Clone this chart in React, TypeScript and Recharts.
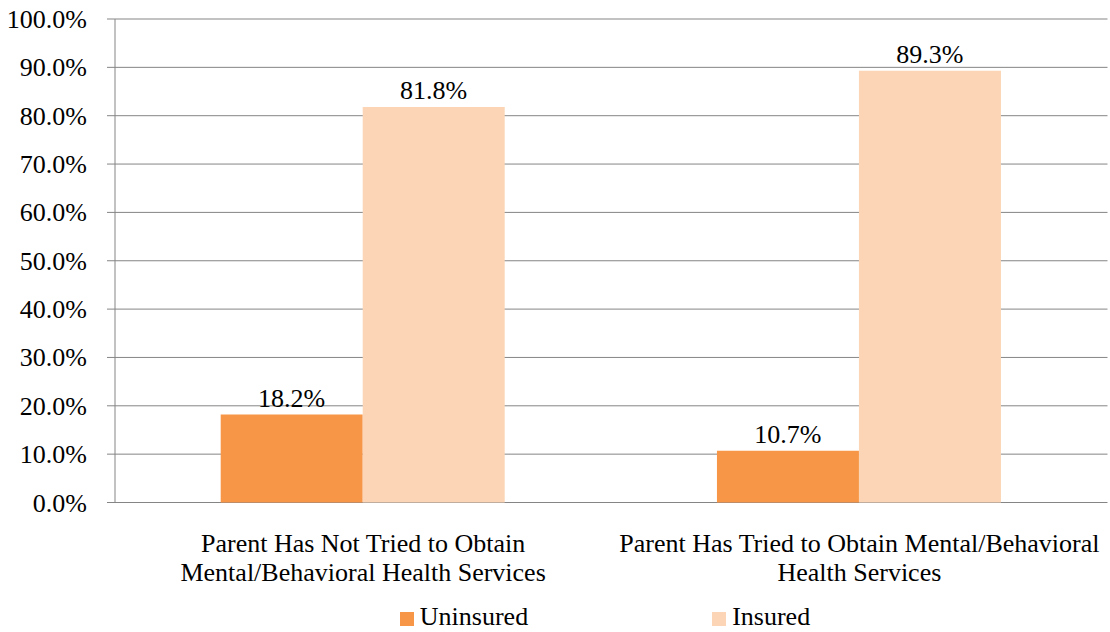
import React from 'react';
import { BarChart, Bar, XAxis, YAxis, CartesianGrid, Legend, LabelList } from 'recharts';

const categories = [
  'Parent Has Not Tried to Obtain Mental/Behavioral Health Services',
  'Parent Has Tried to Obtain Mental/Behavioral Health Services',
];
const categoryLines = [
  ['Parent Has Not Tried to Obtain', 'Mental/Behavioral Health Services'],
  ['Parent Has Tried to Obtain Mental/Behavioral', 'Health Services'],
];
const uninsured = [18.2, 10.7];
const insured = [81.8, 89.3];
const yTicks = [0, 10, 20, 30, 40, 50, 60, 70, 80, 90, 100];
const boundaryTicks = [0, 1, 2];

const seriesNames = ['Uninsured', 'Insured'];
const seriesColors = ['#F79646', '#FBD5B5'];

const data = categories.map((c, i) => ({
  idx: i,
  name: c,
  Uninsured: uninsured[i],
  Insured: insured[i],
}));

const FONT = '"Liberation Serif", "Times New Roman", serif';
const GRAY = '#858585';
const FS = 26;

const fmt = (v: number) => `${v.toFixed(1)}%`;

const CatTick = (props: any) => {
  const { x, y, payload } = props;
  const lines = categoryLines[payload.index] || [String(payload.value)];
  return (
    <text x={x} y={y} textAnchor="middle" fontFamily={FONT} fontSize={FS} fill="#000">
      {lines.map((l, i) => (
        <tspan key={i} x={x} dy={i === 0 ? 49 : 29.5}>
          {l}
        </tspan>
      ))}
    </text>
  );
};

const YTick = (props: any) => {
  const { x, y, payload } = props;
  return (
    <text x={x} y={y} dy={9} textAnchor="end" fontFamily={FONT} fontSize={FS} fill="#000">
      {fmt(Number(payload.value))}
    </text>
  );
};

const BarLabel = (props: any) => {
  const { x, y, width, value } = props;
  return (
    <text
      x={Number(x) + Number(width) / 2}
      y={Number(y) - 8}
      textAnchor="middle"
      fontFamily={FONT}
      fontSize={FS}
      fill="#000"
    >
      {fmt(Number(value))}
    </text>
  );
};

const LegendContent = () => (
  <div
    style={{
      display: 'flex',
      justifyContent: 'center',
      alignItems: 'center',
      gap: 184,
      fontFamily: FONT,
      fontSize: FS,
      color: '#000',
      height: 30,
      lineHeight: '30px',
    }}
  >
    {seriesNames.map((n, i) => (
      <div key={n} style={{ display: 'flex', alignItems: 'center' }}>
        <span
          style={{
            display: 'inline-block',
            width: 14,
            height: 14,
            background: seriesColors[i],
            marginRight: 6,
            marginTop: 4,
          }}
        />
        <span>{n}</span>
      </div>
    ))}
  </div>
);

export default function App() {
  return (
    <div style={{ position: 'absolute', left: 0, top: 0, background: '#fff', fontFamily: FONT }}>
      <BarChart
        width={1110}
        height={632}
        data={data}
        margin={{ top: 19, right: 2.5, bottom: 0, left: 0 }}
        barCategoryGap="21.3%"
        barGap={0}
      >
        <CartesianGrid vertical={false} stroke={GRAY} strokeWidth={1} xAxisId="bnd" />
        <XAxis
          xAxisId="bnd"
          type="number"
          dataKey="idx"
          domain={[0, 2]}
          ticks={boundaryTicks}
          tick={false}
          tickSize={8}
          height={0}
          axisLine={{ stroke: GRAY }}
          tickLine={{ stroke: GRAY }}
          allowDataOverflow
        />
        <XAxis
          xAxisId="cat"
          dataKey="name"
          type="category"
          axisLine={false}
          tickLine={false}
          tickSize={0}
          tickMargin={0}
          height={99.5}
          interval={0}
          tick={<CatTick />}
        />
        <YAxis
          domain={[0, 100]}
          ticks={yTicks}
          width={115}
          tickSize={8}
          tickMargin={20}
          axisLine={{ stroke: GRAY }}
          tickLine={{ stroke: GRAY }}
          tick={<YTick />}
          interval={0}
        />
        <Legend
          verticalAlign="bottom"
          height={30}
          content={<LegendContent />}
          wrapperStyle={{ left: 109, width: 992, bottom: 0 }}
        />
        {seriesNames.map((n, i) => (
          <Bar key={n} dataKey={n} xAxisId="cat" fill={seriesColors[i]} isAnimationActive={false}>
            <LabelList dataKey={n} content={<BarLabel />} />
          </Bar>
        ))}
      </BarChart>
    </div>
  );
}
